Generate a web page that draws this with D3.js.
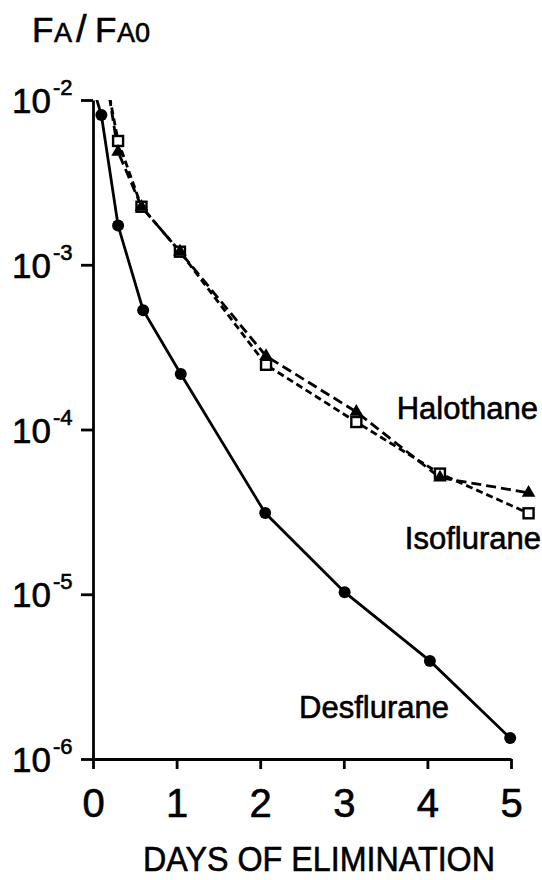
<!DOCTYPE html>
<html>
<head>
<meta charset="utf-8">
<script src="https://cdn.jsdelivr.net/npm/d3@7"></script>
<style>
	body { margin: 0; background: #fff; }
	text { font-family: 'Liberation Sans', Arial, Helvetica, sans-serif; fill: #000; stroke: #000; stroke-width: 0.6; }
</style>
</head>
<body>
<div id="vis"></div>
<script>
// values (days, fraction)
var desDays = [0, 0.1, 0.3, 0.6, 1.05, 2.06, 3.01, 4.03, 4.99];
var desValues = [0.012, 8.1e-3, 1.73e-3, 5.3e-4, 2.17e-4, 3.11e-5, 1.03e-5, 3.94e-6, 1.34e-6];

var haloDays = [0, 0.3, 0.58, 1.04, 2.07, 3.15, 4.15, 5.21];
var haloValues = [0.045, 4.85e-3, 2.25e-3, 1.2e-3, 2.79e-4, 1.28e-4, 5.1e-5, 4.13e-5];

var isoDays = [0, 0.3, 0.58, 1.04, 2.07, 3.15, 4.15, 5.21];
var isoValues = [0.035, 5.64e-3, 2.25e-3, 1.2e-3, 2.47e-4, 1.11e-4, 5.4e-5, 3.1e-5];

var xTicks = [0, 1, 2, 3, 4, 5];
var yTickExps = [-2, -3, -4, -5, -6];

var width = 542,
	height = 880;

var margin = { left: 93, top: 100, right: 31, bottom: 121 };

var drawWidth = width - margin.left - margin.right,
	drawHeight = height - margin.top - margin.bottom;

var svg = d3.select('#vis')
	.append('svg')
	.attr('width', width)
	.attr('height', height);

var g = svg.append('g')
	.attr('transform', 'translate(' + margin.left + ',' + margin.top + ')');

var xScale = d3.scaleLinear()
	.domain([0, 5])
	.range([0, drawWidth]);

var yScale = d3.scaleLog()
	.domain([1e-6, 1e-2])
	.range([drawHeight, 0]);

// axes
var xAxis = d3.axisBottom(xScale)
	.tickValues(xTicks)
	.tickSize(10)
	.tickSizeOuter(0)
	.tickFormat(d3.format('d'));

var yAxis = d3.axisLeft(yScale)
	.tickValues(yTickExps.map(function(e) { return Math.pow(10, e); }))
	.tickSize(12)
	.tickSizeOuter(0)
	.tickFormat('');

var xAxisG = g.append('g')
	.attr('transform', 'translate(0,' + drawHeight + ')')
	.call(xAxis);

xAxisG.selectAll('text')
	.attr('y', 58)
	.attr('dy', 0)
	.attr('font-size', 40)
	.attr('fill', '#000');

var yAxisG = g.append('g').call(yAxis);

g.selectAll('.domain, .tick line')
	.attr('stroke', '#000')
	.attr('stroke-width', 2.8);

// y tick labels as 10^n
var yLabels = g.append('g');

yLabels.selectAll('.base')
	.data(yTickExps)
	.enter().append('text')
		.attr('class', 'base')
		.attr('x', -42)
		.attr('y', function(d) { return yScale(Math.pow(10, d)) + 13; })
		.attr('text-anchor', 'end')
		.attr('font-size', 35)
		.text('10');

yLabels.selectAll('.exp')
	.data(yTickExps)
	.enter().append('text')
		.attr('class', 'exp')
		.attr('x', -40)
		.attr('y', function(d) { return yScale(Math.pow(10, d)) - 5; })
		.attr('font-size', 22)
		.text(function(d) { return '-' + (-d); });

// title FA/FA0
var title = svg.append('text')
	.attr('y', 42);
title.append('tspan').attr('x', 32).attr('font-size', 35).text('F');
title.append('tspan').attr('x', 54).attr('font-size', 27).text('A');
title.append('tspan').attr('x', 76).attr('font-size', 38).text('/');
title.append('tspan').attr('x', 95).attr('font-size', 35).text('F');
title.append('tspan').attr('x', 117).attr('font-size', 27).text('A0');

svg.append('text')
	.attr('x', 319)
	.attr('y', 871)
	.attr('text-anchor', 'middle')
	.attr('font-size', 35)
	.attr('textLength', 352)
	.attr('lengthAdjust', 'spacingAndGlyphs')
	.text('DAYS OF ELIMINATION');

// clip lines at top of axis
svg.append('clipPath')
	.attr('id', 'plotclip')
  .append('rect')
	.attr('x', -20)
	.attr('y', 0)
	.attr('width', drawWidth + 60)
	.attr('height', drawHeight + 20);

var plot = g.append('g').attr('clip-path', 'url(#plotclip)');

var line = d3.line()
	.x(function(d) { return xScale(d[0]); })
	.y(function(d) { return yScale(d[1]); });

var zip = function(a, b) { return a.map(function(d, i) { return [d, b[i]]; }); };

var desData = zip(desDays, desValues),
	haloData = zip(haloDays, haloValues),
	isoData = zip(isoDays, isoValues);

plot.append('path')
	.datum(desData)
	.attr('fill', 'none')
	.attr('stroke', '#000')
	.attr('stroke-width', 2.8)
	.attr('d', line);

plot.append('path')
	.datum(haloData)
	.attr('fill', 'none')
	.attr('stroke', '#000')
	.attr('stroke-width', 2.8)
	.attr('stroke-dasharray', '10,5')
	.attr('d', line);

plot.append('path')
	.datum(isoData)
	.attr('fill', 'none')
	.attr('stroke', '#000')
	.attr('stroke-width', 2.8)
	.attr('stroke-dasharray', '7,4')
	.attr('d', line);

plot.selectAll('.des')
	.data(desData.slice(1))
	.enter().append('circle')
		.attr('class', 'des')
		.attr('cx', function(d) { return xScale(d[0]); })
		.attr('cy', function(d) { return yScale(d[1]); })
		.attr('r', 6)
		.attr('fill', '#000');

plot.selectAll('.iso')
	.data(isoData.slice(1))
	.enter().append('rect')
		.attr('class', 'iso')
		.attr('x', function(d) { return xScale(d[0]) - 5; })
		.attr('y', function(d) { return yScale(d[1]) - 5; })
		.attr('width', 10)
		.attr('height', 10)
		.attr('fill', '#fff')
		.attr('stroke', '#000')
		.attr('stroke-width', 2.4);

var tri = d3.symbol().type(d3.symbolTriangle).size(80);

plot.selectAll('.halo')
	.data(haloData.slice(1))
	.enter().append('path')
		.attr('class', 'halo')
		.attr('transform', function(d) { return 'translate(' + xScale(d[0]) + ',' + yScale(d[1]) + ')'; })
		.attr('d', tri)
		.attr('fill', '#000');

// series labels
svg.append('text')
	.attr('x', 538).attr('y', 419)
	.attr('text-anchor', 'end')
	.attr('font-size', 31)
	.text('Halothane');

svg.append('text')
	.attr('x', 541).attr('y', 549)
	.attr('text-anchor', 'end')
	.attr('font-size', 31)
	.text('Isoflurane');

svg.append('text')
	.attr('x', 449).attr('y', 718)
	.attr('text-anchor', 'end')
	.attr('font-size', 31)
	.text('Desflurane');
</script>
</body>
</html>
